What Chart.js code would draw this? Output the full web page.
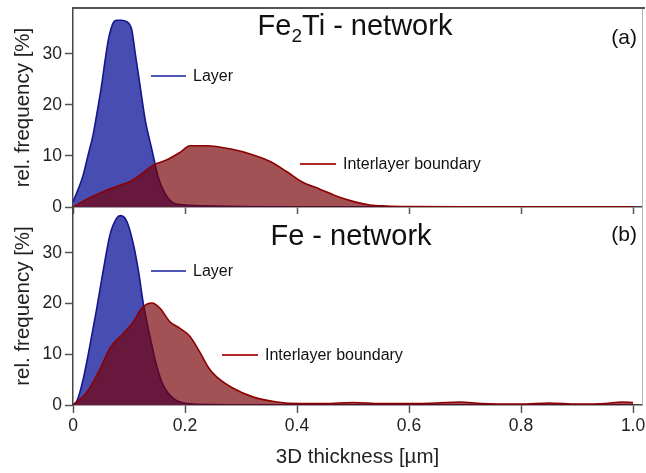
<!DOCTYPE html>
<html>
<head>
<meta charset="utf-8">
<script src="https://cdn.jsdelivr.net/npm/chart.js@4.4.1/dist/chart.umd.min.js"></script>
<style>
  html, body { margin: 0; padding: 0; background: #fff; }
  #wrap { position: relative; width: 646px; height: 473px; }
  #wrap canvas { position: absolute; left: 0; top: 0; }
</style>
</head>
<body>
<div id="wrap">
  <canvas id="panelA" width="646" height="473"></canvas>
  <canvas id="panelB" width="646" height="473"></canvas>
</div>
<script>
const FONT = '"Liberation Sans", Arial, sans-serif';

// axis ranges / ticks
const xMin = 0, xMax = 1.016, xStep = 0.2;
const yMin = 0, yMax = 39, yStep = 10;

// (a) Fe2Ti - network
const thicknessLayerA = [0, 0.009, 0.018, 0.027, 0.036, 0.044, 0.051, 0.057, 0.063, 0.068, 0.073, 0.078, 0.087, 0.096, 0.101, 0.105, 0.111, 0.120, 0.129, 0.141, 0.152, 0.164, 0.179, 0.2, 0.25, 0.3, 0.4, 1.0];
const freqLayerA = [1.0, 3.4, 6.2, 10.2, 14.2, 19.2, 23.8, 28.5, 32.7, 35, 36.3, 36.6, 36.6, 36.3, 35.8, 34.7, 30.2, 23.6, 17, 11.2, 5.9, 2.7, 0.8, 0.4, 0.2, 0.1, 0, 0];
const thicknessInterA = [0, 0.03, 0.06, 0.085, 0.102, 0.12, 0.143, 0.167, 0.191, 0.209, 0.239, 0.28, 0.322, 0.352, 0.382, 0.411, 0.441, 0.471, 0.5, 0.53, 0.56, 0.6, 0.7, 0.8, 0.9, 1.0];
const freqInterA = [0, 1.8, 3.3, 4.3, 5, 6.3, 8.2, 9.2, 10.7, 12, 12, 11.4, 10.2, 8.9, 6.9, 4.8, 3.5, 2.1, 1.1, 0.4, 0.2, 0.1, 0.05, 0.05, 0.05, 0.05];

// (b) Fe - network
const thicknessLayerB = [0, 0.007, 0.018, 0.03, 0.042, 0.054, 0.066, 0.078, 0.085, 0.096, 0.108, 0.117, 0.126, 0.138, 0.149, 0.161, 0.179, 0.203, 0.25, 0.3, 1.0];
const freqLayerB = [0, 0.8, 5.0, 11.6, 18.8, 26.5, 33.5, 36.8, 37.3, 36.2, 31.6, 26.3, 19.7, 13.2, 7.9, 3.9, 1.3, 0.3, 0.1, 0, 0];
const thicknessInterB = [0, 0.024, 0.048, 0.066, 0.09, 0.108, 0.123, 0.141, 0.155, 0.173, 0.191, 0.209, 0.227, 0.243, 0.257, 0.286, 0.321, 0.364, 0.405, 0.45, 0.5, 0.55, 0.6, 0.65, 0.69, 0.73, 0.8, 0.85, 0.9, 0.95, 0.98, 1.0];
const freqInterB = [0, 2.4, 7.0, 11.2, 14.1, 16.4, 19.1, 20.1, 19.1, 16.4, 15.1, 13.5, 10.3, 7.2, 5.5, 3.3, 1.6, 0.6, 0.3, 0.3, 0.5, 0.3, 0.3, 0.4, 0.6, 0.3, 0.2, 0.4, 0.2, 0.3, 0.6, 0.5];

const layerLine = "rgb(22,22,140)", layerFill = "rgb(72,77,178)";
const interLine = "rgb(140,0,0)", interFill = "rgba(118,0,4,0.68)";

function toPoints(xs, ys) {
    return xs.map((x, i) => ({ x: x, y: ys[i] }));
}

function series(label, xs, ys, line, fill) {
    return {
        label: label,
        data: toPoints(xs, ys),
        borderColor: line,
        backgroundColor: fill,
        borderWidth: 1.6,
        pointRadius: 0,
        fill: "origin",
        cubicInterpolationMode: "monotone"
    };
}

// titles, (a)/(b) tags, inline legend and the light right frame
function decorPlugin(cfg) {
    return {
        id: "decor",
        afterDraw(chart) {
            const ctx = chart.ctx;
            const area = chart.chartArea;
            ctx.save();
            ctx.strokeStyle = "#b5b5b5";
            ctx.lineWidth = 1;
            ctx.beginPath();
            ctx.moveTo(area.right + 0.5, area.top);
            ctx.lineTo(area.right + 0.5, area.bottom);
            ctx.stroke();
            if (cfg.topBorder) {
                ctx.strokeStyle = "#555";
                ctx.lineWidth = 2;
                ctx.beginPath();
                ctx.moveTo(area.left, area.top);
                ctx.lineTo(area.right + 3, area.top);
                ctx.stroke();
            }

            ctx.fillStyle = "#111";
            ctx.textBaseline = "alphabetic";
            ctx.textAlign = "left";
            let w = 0;
            cfg.title.forEach(p => {
                ctx.font = p.size + "px " + FONT;
                w += ctx.measureText(p.text).width;
            });
            let x = cfg.titleX - w / 2;
            cfg.title.forEach(p => {
                ctx.font = p.size + "px " + FONT;
                ctx.fillText(p.text, x, cfg.titleY + (p.dy || 0));
                x += ctx.measureText(p.text).width;
            });

            ctx.font = "21px " + FONT;
            ctx.textAlign = "right";
            ctx.fillText(cfg.tag, 637, cfg.tagY);

            ctx.textAlign = "left";
            ctx.textBaseline = "middle";
            ctx.font = "16px " + FONT;
            cfg.legend.forEach(item => {
                ctx.strokeStyle = item.color;
                ctx.lineWidth = 2;
                ctx.beginPath();
                ctx.moveTo(item.x1, item.y);
                ctx.lineTo(item.x2, item.y);
                ctx.stroke();
                ctx.fillStyle = "#111";
                ctx.fillText(item.text, item.x2 + 7, item.y + 1);
            });
            ctx.restore();
        }
    };
}

function yAxis() {
    return {
        type: "linear",
        min: yMin,
        max: yMax,
        bounds: "data",
        ticks: { stepSize: yStep, includeBounds: false, color: "#222", padding: 3, font: { family: FONT, size: 17.5 } },
        grid: { drawOnChartArea: false, tickLength: 8, tickColor: "#555", tickWidth: 1.5 },
        border: { color: "#444", width: 1.5 },
        title: { display: true, text: "rel. frequency [%]", color: "#222", padding: { top: 11, bottom: 0 }, font: { family: FONT, size: 20.5 } },
        afterBuildTicks: s => { s.ticks = s.ticks.filter(t => t.value % yStep === 0); },
        afterFit: s => { s.width = 73; s.paddingTop = 0; s.paddingBottom = 0; }
    };
}

function xAxis(showLabels) {
    return {
        type: "linear",
        min: xMin,
        max: xMax,
        bounds: "data",
        ticks: {
            display: showLabels,
            stepSize: xStep,
            includeBounds: false,
            maxRotation: 0,
            color: "#222",
            padding: 3,
            font: { family: FONT, size: 17.5 },
            callback: v => v === 0 ? "0" : v.toFixed(1)
        },
        grid: { drawOnChartArea: false, tickLength: showLabels ? 8 : 7, tickColor: "#555", tickWidth: 1.5 },
        border: { color: "#444", width: 1.5 },
        title: { display: showLabels, text: "3D thickness [µm]", color: "#222", padding: { top: 0, bottom: 3 }, font: { family: FONT, size: 20.5 } },
        afterBuildTicks: s => { s.ticks = s.ticks.filter(t => t.value <= 1.0001); },
        afterFit: s => { s.height = showLabels ? 68 : 7; s.paddingLeft = 0; s.paddingRight = 0; }
    };
}

function makePanel(canvasId, datasets, padding, showX, decor) {
    return new Chart(document.getElementById(canvasId).getContext("2d"), {
        type: "line",
        data: { datasets: datasets },
        options: {
            responsive: false,
            animation: false,
            devicePixelRatio: 1,
            layout: { padding: padding, autoPadding: false },
            plugins: { legend: { display: false }, tooltip: { enabled: false } },
            scales: { x: xAxis(showX), y: yAxis() }
        },
        plugins: [decorPlugin(decor)]
    });
}

makePanel("panelA", [
    series("Interlayer boundary", thicknessInterA, freqInterA, interLine, interFill),
    series("Layer", thicknessLayerA, freqLayerA, layerLine, layerFill)
], { left: 0, top: 8, right: 4, bottom: 259 }, false, {
    topBorder: true,
    title: [{ text: "Fe", size: 29 }, { text: "2", size: 19, dy: 7 }, { text: "Ti - network", size: 29 }],
    titleX: 355, titleY: 35,
    tag: "(a)", tagY: 44,
    legend: [
        { text: "Layer", x1: 151, x2: 186, y: 76, color: "rgb(80,84,180)" },
        { text: "Interlayer boundary", x1: 300, x2: 336, y: 164, color: "rgb(176,40,40)" }
    ]
});

makePanel("panelB", [
    series("Interlayer boundary", thicknessInterB, freqInterB, interLine, interFill),
    series("Layer", thicknessLayerB, freqLayerB, layerLine, layerFill)
], { left: 0, top: 207, right: 4, bottom: 0 }, true, {
    topBorder: false,
    title: [{ text: "Fe - network", size: 29 }],
    titleX: 351, titleY: 245,
    tag: "(b)", tagY: 241,
    legend: [
        { text: "Layer", x1: 151, x2: 186, y: 271, color: "rgb(80,84,180)" },
        { text: "Interlayer boundary", x1: 222, x2: 258, y: 355, color: "rgb(176,40,40)" }
    ]
});
</script>
</body>
</html>
